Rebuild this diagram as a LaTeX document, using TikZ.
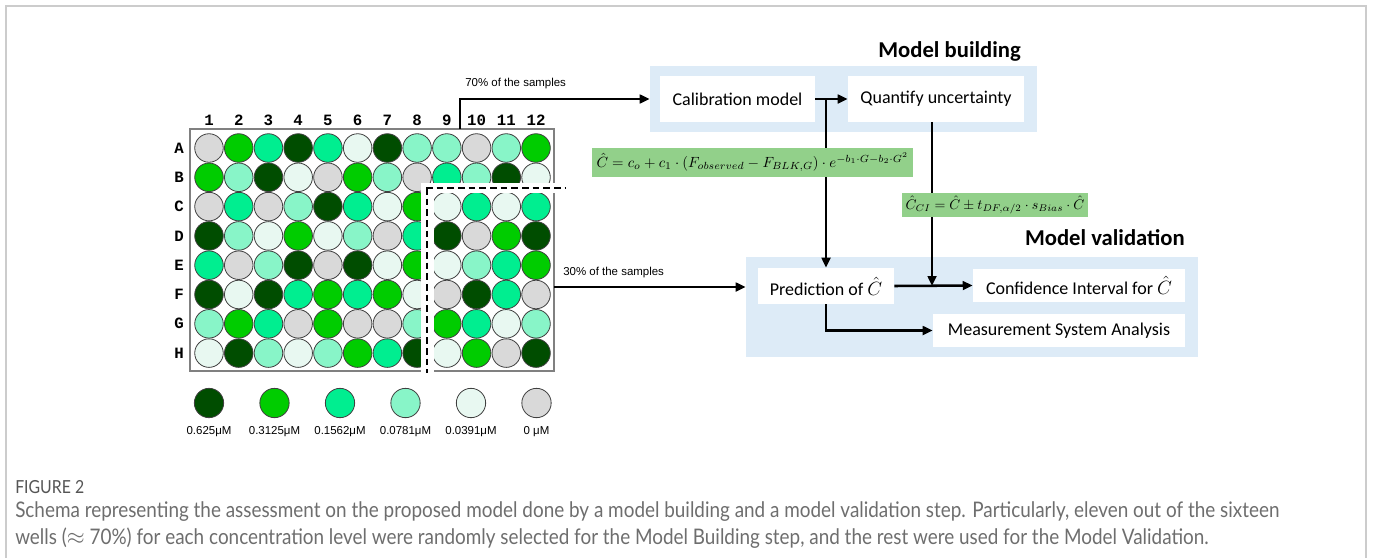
\documentclass[tikz,border=0pt]{standalone}
\usepackage{fontspec}
\setmainfont{Carlito}
\newfontfamily\arialf{Liberation Sans}
\newfontfamily\monof{Liberation Mono}
\newfontfamily\capf[FakeStretch=0.88]{Lato}
\usetikzlibrary{arrows.meta}
\definecolor{cD}{HTML}{004D00}
\definecolor{cG}{HTML}{00CC00}
\definecolor{cM}{HTML}{00EE90}
\definecolor{cL}{HTML}{88F5C8}
\definecolor{cW}{HTML}{E8F8F1}
\definecolor{cX}{HTML}{D9D9D9}
\definecolor{bluebox}{HTML}{DDEBF7}
\definecolor{eqgreen}{HTML}{92D08A}
\definecolor{framec}{HTML}{CCCCCC}
\definecolor{capgray}{HTML}{6E6E6E}
\definecolor{figgray}{HTML}{555555}
\begin{document}
\begin{tikzpicture}[x=0.75pt,y=-0.75pt,
  well/.style={circle, draw=black!75, line width=0.6pt, inner sep=0pt, minimum size=21.4pt},
  lgwell/.style={circle, draw=black!75, line width=0.6pt, inner sep=0pt, minimum size=22pt},
  collab/.style={font=\monof\bfseries\fontsize{11.8}{12}\selectfont, inner sep=0pt},
  lglab/.style={font=\arialf\fontsize{8.6}{9}\selectfont, inner sep=0pt},
  smalllab/.style={font=\arialf\fontsize{8.6}{9}\selectfont, inner sep=0pt, anchor=west},
  bluearea/.style={fill=bluebox, inner sep=0pt},
  wbox/.style={fill=white, inner sep=0pt, font=\fontsize{13.5}{14}\selectfont},
  eqbox/.style={fill=eqgreen, inner sep=0pt},
  title/.style={font=\bfseries\fontsize{17}{18}\selectfont, inner sep=0pt, anchor=east},
  arr/.style={line width=1.9pt, -{Triangle[length=7.5pt,width=6.5pt]}},
  dashline/.style={line width=1.6pt, dash pattern=on 5pt off 3pt},
  captxt/.style={font=\capf\fontsize{16.1}{17}\selectfont, text=capgray, inner sep=0pt, anchor=west}
]
\useasboundingbox (0,0) rectangle (1373,557);
\fill[white] (0,0) rectangle (1373,557);
\draw[framec, line width=1.1pt] (6,565) -- (6,6) -- (1366,6) -- (1366,565);

% ---------- plate ----------
\node[draw=black!50, line width=1.1pt, minimum width=273pt, minimum height=181.5pt, inner sep=0pt] (plate) at (372,250) {};
\foreach \row [count=\r] in {
  {X,G,M,D,M,W,D,L,L,X,L,G},
  {G,L,D,W,X,G,L,X,M,L,D,W},
  {X,M,X,L,D,M,W,G,W,M,W,M},
  {D,L,W,G,W,L,X,M,D,X,G,D},
  {M,X,L,D,X,D,W,G,W,L,M,G},
  {D,W,D,M,G,M,G,W,X,D,M,X},
  {L,G,M,X,G,X,X,L,G,M,W,L},
  {W,D,L,W,L,G,M,D,W,G,X,D}} {
  \foreach \c [count=\k] in \row {
    \node[well, fill=c\c] (w\r-\k) at ({209+(\k-1)*29.73},{148+(\r-1)*29.3}) {};
  }
}
\foreach \l [count=\r] in {A,B,C,D,E,F,G,H}
  \node[collab] (row\l) at (179,{148+(\r-1)*29.3}) {\l};
\foreach \k in {1,...,12}
  \node[collab] (col\k) at ({209+(\k-1)*29.73},120) {\k};

% cut between building and validation wells
\fill[white] (420.5,183) rectangle (572,192.5);
\fill[white] (420.5,183) rectangle (434,377);
\draw[dashline] (426,188) -- (566,188);
\draw[dashline] (427,188) -- (427,373);

% ---------- legend ----------
\foreach \c/\t [count=\i] in {D/0.625μM, G/0.3125μM, M/0.1562μM, L/0.0781μM, W/0.0391μM, X/0 μM} {
  \node[lgwell, fill=c\c] (lg\i) at ({209+(\i-1)*65.5},403) {};
  \node[lglab] (lgt\i) at ({209+(\i-1)*65.5},432) {\t};
}

% ---------- model building ----------
\node[bluearea, minimum width=290.25pt, minimum height=49.5pt] (mb) at (843.5,99) {};
\node[title] (mbt) at (1021,51) {Model building};
\node[wbox, minimum width=116.25pt, minimum height=34.5pt] (cal) at (737.5,99) {Calibration model};
\node[wbox, minimum width=132pt, minimum height=34.5pt] (qu) at (936,99) {Quantify uncertainty};

% ---------- model validation ----------
\node[bluearea, minimum width=339pt, minimum height=75pt] (vb) at (972,307) {};
\node[title] (vbt) at (1185,238) {Model validation};
\node[wbox, minimum width=102pt, minimum height=27pt] (pred) at (826,286) {Prediction of $\hat{C}$};
\node[wbox, minimum width=159pt, minimum height=25pt] (ci) at (1079,285.5) {Confidence Interval for $\hat{C}$};
\node[wbox, minimum width=189pt, minimum height=25pt] (msa) at (1059,330.5) {Measurement System Analysis};

% ---------- connectors ----------
\coordinate (p70) at (460,129);
\coordinate (p30) at (554,287);
\draw[arr] (p70) |- (mb.west);
\node[smalllab] (l70) at (465,84) {70\% of the samples};
\draw[arr] (p30) -- (p30 -| vb.west);
\node[smalllab] (l30) at (563,273) {30\% of the samples};

\draw[arr] (cal.east) -- (qu.west);
\coordinate (j1) at (pred.north |- cal.east);
\draw[arr] (j1) -- (pred.north);
\coordinate (j2) at ([xshift=-3]qu.south);
\draw[arr] (j2) -- (j2 |- pred.east);
\draw[arr] (pred.east) -- (ci.west);
\draw[arr] (pred.south) |- (msa.west);

\node[eqbox, minimum width=240.75pt, minimum height=21.75pt] (eq1) at (752.5,162.5)
  {\resizebox{234pt}{!}{$\hat{C} = c_o + c_1 \cdot \left(F_{observed} - F_{BLK,G}\right) \cdot e^{-b_1\cdot G - b_2\cdot G^2}$}};
\node[eqbox, minimum width=139.5pt, minimum height=18pt] (eq2) at (995,205)
  {\resizebox{134pt}{!}{$\hat{C}_{CI} = \hat{C} \pm t_{DF,\alpha/2} \cdot s_{Bias} \cdot \hat{C}$}};

% ---------- caption ----------
\node[captxt, text=figgray, font=\capf\fontsize{13.5}{14}\selectfont] (fig) at (15,487) {FIGURE 2};
\node[captxt] (cap1) at (15,512) {Schema representing the assessment on the proposed model done by a model building and a model validation step. Particularly, eleven out of the sixteen};
\node[captxt] (cap2) at (15,538) {wells ($\approx$ 70\%) for each concentration level were randomly selected for the Model Building step, and the rest were used for the Model Validation.};
\end{tikzpicture}
\end{document}
